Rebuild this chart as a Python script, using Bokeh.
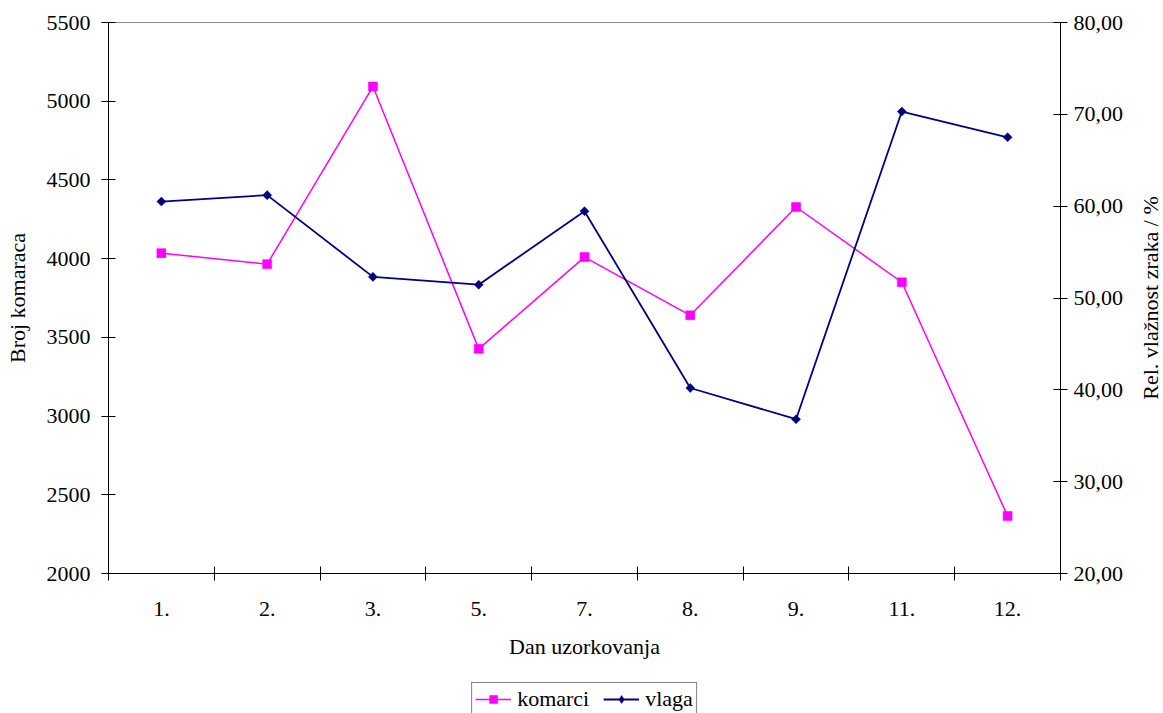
import math
from bokeh.plotting import figure
from bokeh.layouts import row, column
from bokeh.models import (Range1d, LinearAxis, FixedTicker, CustomJSTickFormatter,
                          Legend, LegendItem, Label)
from bokeh.embed import file_html
from bokeh.resources import INLINE

# ---- data ----
categories = ["1.", "2.", "3.", "5.", "7.", "8.", "9.", "11.", "12."]
komarci = [4035, 3965, 5093, 3427, 4010, 3640, 4328, 3850, 2365]
vlaga = [60.5, 61.2, 52.3, 51.45, 59.45, 40.2, 36.8, 70.3, 67.5]
left_ticks = [2000, 2500, 3000, 3500, 4000, 4500, 5000, 5500]
right_ticks = [20, 30, 40, 50, 60, 70, 80]

x_pos = [i + 0.5 for i in range(len(categories))]
boundaries = list(range(len(categories) + 1))

FONT = "Liberation Serif"
FS = "22px"
PINK = "#FF00FF"
NAVY = "#000080"

W_ALL = 1163
W_MAIN = 1136
W_TITLE = W_ALL - W_MAIN
H_MAIN = 682
H_LEG = 713 - H_MAIN
B_TOP = 22
B_BOTTOM = H_MAIN - 573
B_LEFT = 108
B_RIGHT_ALL = W_ALL - 1060

p = figure(width=W_MAIN, height=H_MAIN, output_backend="svg", toolbar_location=None,
           x_range=Range1d(0, len(categories)), y_range=Range1d(2000, 5500),
           min_border_left=B_LEFT, min_border_right=W_MAIN - 1060, min_border_top=B_TOP,
           min_border_bottom=B_BOTTOM, x_axis_type=None, y_axis_type=None)
p.xgrid.visible = False
p.ygrid.visible = False
p.outline_line_color = "#8c8c8c"
p.outline_line_width = 1
p.background_fill_color = "white"
p.border_fill_color = "white"

p.extra_y_ranges = {"vlaga": Range1d(20, 80)}

def style_axis(ax):
    ax.axis_line_color = "black"
    ax.axis_line_width = 1
    ax.major_tick_line_color = "black"
    ax.minor_tick_line_color = "black"
    ax.major_label_text_font = FONT
    ax.major_label_text_font_size = FS
    ax.major_label_text_color = "black"
    ax.axis_label_text_font = FONT
    ax.axis_label_text_font_size = FS
    ax.axis_label_text_font_style = "normal"
    ax.axis_label_text_color = "black"

# bottom axis
xax = LinearAxis(ticker=FixedTicker(ticks=x_pos, minor_ticks=boundaries),
                 formatter=CustomJSTickFormatter(args=dict(cats=categories),
                                                 code="return cats[Math.floor(tick)] || '';"),
                 axis_label="Dan uzorkovanja")
style_axis(xax)
xax.major_tick_in = 0
xax.major_tick_out = 0
xax.minor_tick_in = 7
xax.minor_tick_out = 7
xax.major_label_standoff = 21
xax.axis_label_standoff = 15
p.add_layout(xax, "below")

# left axis
yax = LinearAxis(ticker=FixedTicker(ticks=left_ticks), axis_label="Broj komaraca")
style_axis(yax)
yax.major_tick_in = 7
yax.major_tick_out = 7
yax.minor_tick_line_color = None
yax.major_label_standoff = 11
yax.axis_label_standoff = 14
p.add_layout(yax, "left")

# right axis
rax = LinearAxis(y_range_name="vlaga", ticker=FixedTicker(ticks=right_ticks),
                 formatter=CustomJSTickFormatter(code="return tick.toFixed(2).replace('.', ',');"))
style_axis(rax)
rax.major_tick_in = 7
rax.major_tick_out = 7
rax.minor_tick_line_color = None
rax.major_label_standoff = 6
p.add_layout(rax, "right")

# series
p.line(x_pos, komarci, line_color=PINK, line_width=1.5)
p.scatter(x_pos, komarci, marker="square", size=9, fill_color=PINK, line_color=PINK, line_width=0.5)
p.line(x_pos, vlaga, line_color=NAVY, line_width=1.8, y_range_name="vlaga")
p.scatter(x_pos, vlaga, marker="square", size=6.4, angle=math.pi / 4,
          fill_color=NAVY, line_color=NAVY, line_width=0.5, y_range_name="vlaga")

# narrow strip on the right holding the right axis title (reads upwards)
pt = figure(width=W_TITLE, height=H_MAIN, output_backend="svg", toolbar_location=None,
            x_range=Range1d(0, 1), y_range=Range1d(0, 1),
            min_border_left=0, min_border_right=0, min_border_top=B_TOP,
            min_border_bottom=B_BOTTOM, x_axis_type=None, y_axis_type=None)
pt.xgrid.visible = False
pt.ygrid.visible = False
pt.outline_line_color = None
pt.background_fill_color = "white"
pt.border_fill_color = "white"
rtitle = Label(x=W_TITLE / 2, y=(H_MAIN - B_TOP - B_BOTTOM) / 2, x_units="screen", y_units="screen",
               text="Rel. vlažnost zraka / %", angle=math.pi / 2,
               text_align="center", text_baseline="middle",
               text_font=FONT, text_font_size=FS, text_color="black")
pt.add_layout(rtitle)

# legend strip below; the series are added again here only to provide the legend keys
# (their values lie far outside this strip's 0..1 ranges, so nothing but the keys shows)
pl = figure(width=W_ALL, height=H_LEG, output_backend="svg", toolbar_location=None,
            x_range=Range1d(0, 1), y_range=Range1d(0, 1),
            min_border_left=B_LEFT, min_border_right=B_RIGHT_ALL, min_border_top=0,
            min_border_bottom=0, x_axis_type=None, y_axis_type=None)
pl.xgrid.visible = False
pl.ygrid.visible = False
pl.outline_line_color = None
pl.background_fill_color = "white"
pl.border_fill_color = "white"
k_line = pl.line(x_pos, komarci, line_color=PINK, line_width=1.5)
k_mark = pl.scatter(x_pos, komarci, marker="square", size=9, fill_color=PINK, line_color=PINK,
                    line_width=0.5)
v_line = pl.line(x_pos, vlaga, line_color=NAVY, line_width=1.8)
v_mark = pl.scatter(x_pos, vlaga, marker="diamond", size=10, fill_color=NAVY, line_color=NAVY,
                    line_width=0.5)

legend = Legend(items=[LegendItem(label="komarci", renderers=[k_line, k_mark]),
                       LegendItem(label="vlaga", renderers=[v_line, v_mark])],
                orientation="horizontal", location="top_center")
legend.label_text_font = FONT
legend.label_text_font_size = FS
legend.label_text_color = "black"
legend.padding = 3
legend.spacing = 14
legend.glyph_width = 36
legend.label_standoff = 6
legend.border_line_color = "black"
legend.border_line_width = 1
legend.background_fill_color = "white"
legend.background_fill_alpha = 1
legend.margin = 0
pl.add_layout(legend)

layout = column(row(p, pt, spacing=0), pl, spacing=0)
open("out.html", "w").write(file_html(layout, INLINE))
